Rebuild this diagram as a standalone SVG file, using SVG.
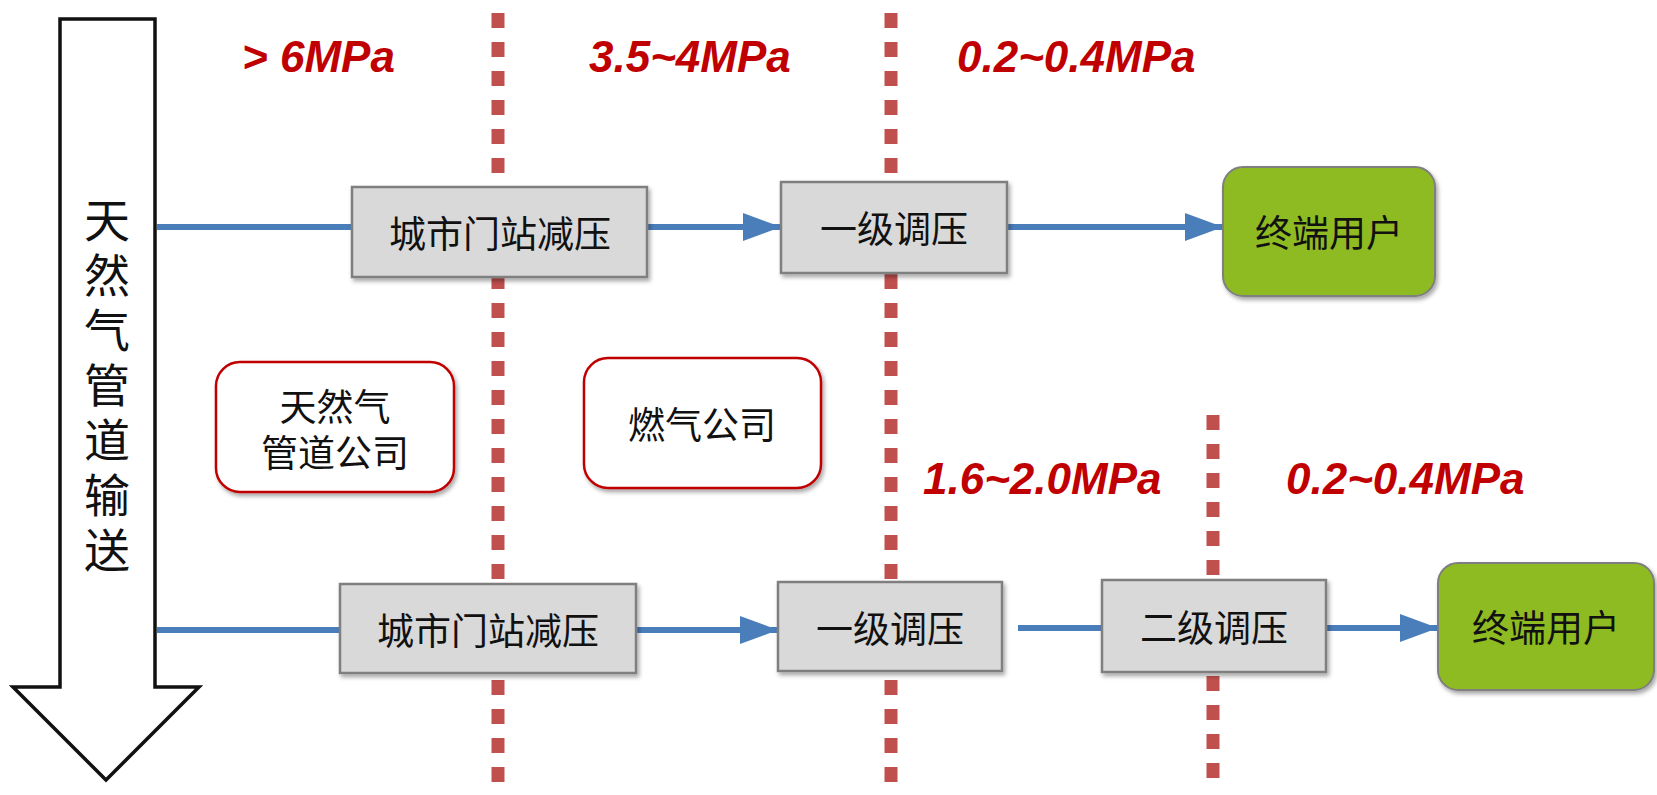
<svg xmlns="http://www.w3.org/2000/svg" width="1657" height="795" viewBox="0 0 1657 795">
<defs>
<filter id="sh" x="-10%" y="-10%" width="130%" height="140%"><feDropShadow dx="2" dy="3" stdDeviation="2" flood-color="#000" flood-opacity="0.35"/></filter>
<marker id="ah" markerUnits="userSpaceOnUse" markerWidth="38" markerHeight="28" refX="38" refY="14" orient="auto"><path d="M0,0 L38,14 L0,28 Z" fill="#4a7ebb"/></marker>
<style>
.gray{fill:#d9d9d9;stroke:#7f7f7f;stroke-width:2.5;filter:url(#sh)}
.green{fill:#8fbb22;stroke:#7f7f7f;stroke-width:2;filter:url(#sh)}
.redbox{fill:#fff;stroke:#c00000;stroke-width:2.5;filter:url(#sh)}
.t{font-family:"Noto Sans CJK SC",sans-serif;font-size:37px;fill:#111;text-anchor:middle;dominant-baseline:central}
.v{font-family:"Noto Sans CJK SC",sans-serif;font-size:46px;fill:#111;writing-mode:vertical-rl;letter-spacing:9px}
.p{font-family:"Liberation Sans",Arial,sans-serif;font-size:44px;font-weight:bold;font-style:italic;fill:#c00000}
.dot{stroke:#c0504d;stroke-width:13;stroke-dasharray:15 14;fill:none}
.c{stroke:#4a7ebb;stroke-width:6;fill:none}
</style>
</defs>
<rect width="1657" height="795" fill="#fff"/>
<g id="dividers">
<line class="dot" x1="498" y1="13" x2="498" y2="795"/>
<line class="dot" x1="891" y1="13" x2="891" y2="795"/>
<line class="dot" x1="1213" y1="415" x2="1213" y2="790"/>
</g>
<g id="pressures">
<text class="p" x="242" y="72">&gt; 6MPa</text>
<text class="p" x="589" y="72">3.5~4MPa</text>
<text class="p" x="957" y="72">0.2~0.4MPa</text>
<text class="p" x="923" y="494">1.6~2.0MPa</text>
<text class="p" x="1286" y="494">0.2~0.4MPa</text>
</g>
<g id="pipeline">
<path d="M60,19 L155,19 L155,687 L199,687 L106,780 L13,687 L60,687 Z" fill="#fff" stroke="#111" stroke-width="3.5"/>
<text class="v" x="107" y="197">天然气管道输送</text>
</g>
<g id="connectors">
<line class="c" x1="157" y1="227" x2="352" y2="227"/>
<line class="c" x1="647" y1="227" x2="781" y2="227" marker-end="url(#ah)"/>
<line class="c" x1="1007" y1="227" x2="1223" y2="227" marker-end="url(#ah)"/>
<line class="c" x1="157" y1="630" x2="340" y2="630"/>
<line class="c" x1="636" y1="630" x2="778" y2="630" marker-end="url(#ah)"/>
<line class="c" x1="1018" y1="628" x2="1102" y2="628"/>
<line class="c" x1="1326" y1="628" x2="1438" y2="628" marker-end="url(#ah)"/>
</g>
<g id="top-gate">
<rect class="gray" x="352" y="187" width="295" height="90"/>
<text class="t" x="500" y="232">城市门站减压</text>
</g>
<g id="top-reg1">
<rect class="gray" x="781" y="182" width="226" height="91"/>
<text class="t" x="894" y="227">一级调压</text>
</g>
<g id="top-user">
<rect class="green" x="1223" y="167" width="212" height="129" rx="20"/>
<text class="t" x="1329" y="231">终端用户</text>
</g>
<g id="pipeline-company">
<rect class="redbox" x="216" y="362" width="238" height="130" rx="24"/>
<text class="t" x="335" y="405"><tspan x="335" y="405">天然气</tspan><tspan x="335" y="451">管道公司</tspan></text>
</g>
<g id="gas-company">
<rect class="redbox" x="584" y="358" width="237" height="130" rx="24"/>
<text class="t" x="702" y="423">燃气公司</text>
</g>
<g id="bottom-gate">
<rect class="gray" x="340" y="584" width="296" height="89"/>
<text class="t" x="488" y="629">城市门站减压</text>
</g>
<g id="bottom-reg1">
<rect class="gray" x="778" y="582" width="224" height="89"/>
<text class="t" x="890" y="627">一级调压</text>
</g>
<g id="bottom-reg2">
<rect class="gray" x="1102" y="580" width="224" height="92"/>
<text class="t" x="1214" y="626">二级调压</text>
</g>
<g id="bottom-user">
<rect class="green" x="1438" y="563" width="216" height="127" rx="20"/>
<text class="t" x="1546" y="626">终端用户</text>
</g>
</svg>
